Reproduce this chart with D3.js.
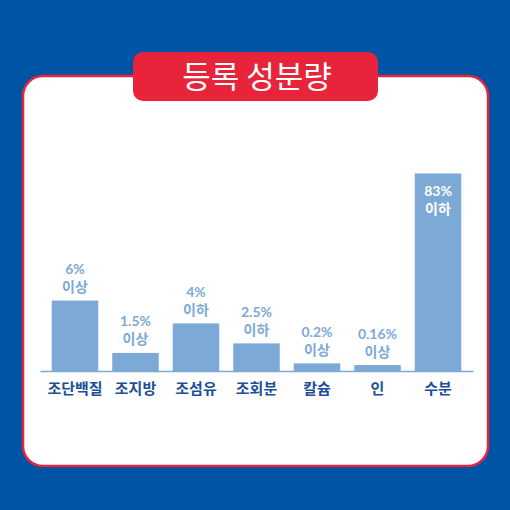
<!DOCTYPE html>
<html><head><meta charset="utf-8">
<script src="https://cdn.jsdelivr.net/npm/d3@7"></script>
<style>html,body{margin:0;padding:0;background:#0054a5;}svg{display:block;}</style>
</head><body>
<svg id="chart" width="510" height="510"></svg>
<script>
const title = "등록 성분량";
const categories = ["조단백질", "조지방", "조섬유", "조회분", "칼슘", "인", "수분"];
const percentLabels = ["6%", "1.5%", "4%", "2.5%", "0.2%", "0.16%", "83%"];
const limitLabels = ["이상", "이상", "이하", "이하", "이상", "이상", "이하"];
// visual bar lengths as drawn in the picture (not proportional to the percentages)
const barLevels = [29.6, 7.6, 20, 11.6, 3.2, 2.5, 83];
const insideLabel = [false, false, false, false, false, false, true];

const svg = d3.select("#chart");
const blue = "#0054a5", red = "#e8243a", barColor = "#7ca9d5", catColor = "#1d4f98";
const fontLat = "Lato, 'Noto Sans CJK KR', sans-serif";
const fontKr = "'Noto Sans CJK KR', sans-serif";

svg.append("rect").attr("width", 510).attr("height", 510).attr("fill", blue);
svg.append("rect").attr("x", 23).attr("y", 76).attr("width", 465).attr("height", 390)
  .attr("rx", 20).attr("fill", "#fff").attr("stroke", red).attr("stroke-width", 2.5);

svg.append("rect").attr("x", 133).attr("y", 52).attr("width", 245).attr("height", 49)
  .attr("rx", 10).attr("fill", red);
svg.append("text").attr("x", 257).attr("y", 88).attr("text-anchor", "middle")
  .attr("font-family", fontKr).attr("font-size", 31).attr("font-weight", 400)
  .attr("fill", "#fff").text(title);

const x = d3.scaleBand().domain(categories).range([40, 473]).paddingInner(0.231).paddingOuter(0.194);
const y = d3.scaleLinear().domain([0, 100]).range([371, 133]);

const g = svg.append("g");
g.selectAll("rect.bar").data(categories).join("rect").attr("class", "bar")
  .attr("x", d => x(d)).attr("width", x.bandwidth())
  .attr("y", (d, i) => y(barLevels[i])).attr("height", (d, i) => y(0) - y(barLevels[i]))
  .attr("fill", barColor);

const axis = svg.append("g").attr("transform", `translate(0,${y(0)})`)
  .call(d3.axisBottom(x).tickSize(0).tickSizeOuter(0));
axis.select(".domain").attr("stroke", barColor).attr("stroke-width", 1.5);
axis.selectAll("text").attr("y", 23).attr("dy", "0")
  .attr("font-family", fontKr).attr("font-size", 15).attr("font-weight", 700)
  .attr("fill", catColor);

const cx = d => x(d) + x.bandwidth() / 2;
const col = (d, i) => insideLabel[i] ? "#fff" : barColor;

g.selectAll("text.pct").data(categories).join("text").attr("class", "pct")
  .attr("text-anchor", "middle").attr("font-family", fontLat).attr("font-size", 14)
  .attr("font-weight", 700).attr("fill", col)
  .attr("x", cx)
  .attr("y", (d, i) => insideLabel[i] ? y(barLevels[i]) + 23 : y(barLevels[i]) - 26.5)
  .text((d, i) => percentLabels[i]);

g.selectAll("text.lim").data(categories).join("text").attr("class", "lim")
  .attr("text-anchor", "middle").attr("font-family", fontKr).attr("font-size", 14)
  .attr("font-weight", 700).attr("fill", col)
  .attr("x", cx)
  .attr("y", (d, i) => insideLabel[i] ? y(barLevels[i]) + 41 : y(barLevels[i]) - 8.5)
  .text((d, i) => limitLabels[i]);
</script>
</body></html>
